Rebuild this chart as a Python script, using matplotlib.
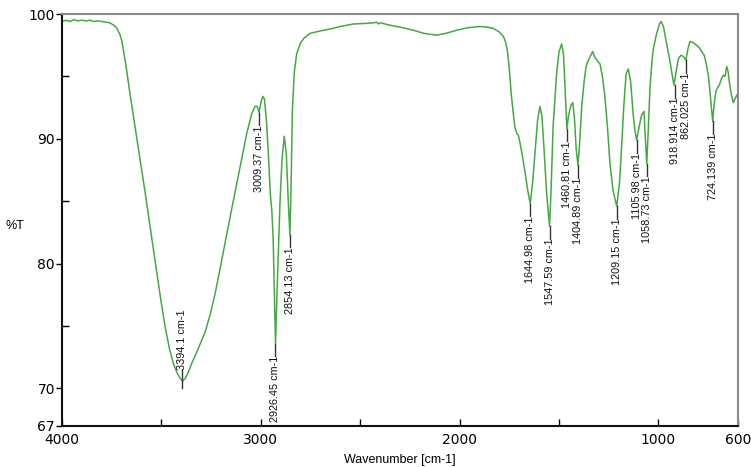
import matplotlib
matplotlib.use('Agg')
from matplotlib import pyplot as plt
from matplotlib.ticker import MultipleLocator, FixedLocator

# IR spectrum, wavenumber (cm-1) vs transmittance (%T)
wavenumber = [4000, 3980, 3960, 3940, 3920, 3900, 3880, 3860, 3840, 3820, 3800, 3780, 3760, 3740,
              3725, 3710, 3700, 3690, 3675, 3660, 3633, 3610, 3583, 3560, 3532, 3505, 3482, 3460,
              3440, 3420, 3405, 3394, 3380, 3365, 3348, 3320, 3281, 3255, 3230, 3200, 3165, 3130,
              3096, 3070, 3046, 3029, 3018, 3009, 3000, 2990, 2982, 2972, 2962, 2952, 2945, 2938,
              2932, 2926, 2920, 2912, 2904, 2893, 2882, 2872, 2862, 2854, 2848, 2842, 2832, 2820,
              2800, 2781, 2753, 2700, 2652, 2600, 2535, 2470, 2430, 2417, 2410, 2400, 2350, 2300,
              2233, 2180, 2115, 2070, 2015, 1960, 1898, 1860, 1831, 1800, 1780, 1770, 1760, 1750,
              1740, 1730, 1722, 1712, 1705, 1698, 1685, 1671, 1658, 1645, 1633, 1621, 1608, 1596,
              1586, 1575, 1562, 1548, 1540, 1530, 1512, 1500, 1487, 1478, 1470, 1461, 1452, 1440,
              1431, 1422, 1414, 1405, 1396, 1386, 1374, 1364, 1353, 1340, 1331, 1322, 1311, 1294,
              1282, 1269, 1256, 1244, 1228, 1210, 1196, 1185, 1175, 1163, 1152, 1140, 1127, 1118,
              1110, 1097, 1085, 1073, 1066, 1059, 1052, 1043, 1034, 1026, 1010, 995, 987, 975,
              967, 955, 942, 930, 922, 912, 900, 887, 875, 862, 852, 842, 825, 808,
              795, 783, 770, 758, 748, 741, 734, 727, 720, 711, 700, 694, 684, 674,
              665, 657, 650, 644, 634, 624, 615, 607, 600]
transmittance = [99.4, 99.5, 99.4, 99.55, 99.45, 99.5, 99.45, 99.5, 99.4, 99.45, 99.4, 99.35, 99.3, 99.1,
                 98.9, 98.4, 97.9, 97.0, 95.5, 93.8, 91.0, 88.6, 85.8, 83.3, 80.2, 77.3, 75.0, 73.2,
                 72.0, 71.2, 70.8, 70.6, 70.8, 71.3, 72.0, 73.0, 74.5, 75.9, 77.6, 80.0, 82.9, 85.7,
                 88.4, 90.5, 92.0, 92.6, 92.6, 92.1, 92.9, 93.4, 93.2, 91.5, 88.7, 85.5, 84.3, 82.0,
                 77.5, 73.6, 77.0, 81.0, 84.8, 88.5, 90.2, 88.8, 85.0, 82.3, 86.0, 92.0, 95.3, 96.8,
                 97.7, 98.1, 98.45, 98.65, 98.8, 99.0, 99.2, 99.25, 99.3, 99.35, 99.2, 99.3, 99.1, 98.95,
                 98.7, 98.45, 98.3, 98.45, 98.7, 98.9, 99.0, 98.95, 98.85, 98.55, 98.2, 97.8, 97.1, 95.5,
                 93.5, 92.0, 90.9, 90.4, 90.3, 89.8, 88.7, 87.3, 85.9, 84.8, 86.5, 88.9, 91.5, 92.6,
                 91.8, 89.0, 85.5, 83.0, 86.0, 91.0, 95.3, 97.0, 97.6, 96.8, 94.2, 90.8, 91.9, 92.7,
                 92.9, 91.5, 89.2, 87.9, 89.8, 92.6, 94.6, 95.8, 96.3, 96.7, 97.0, 96.6, 96.3, 96.0,
                 95.0, 93.3, 90.8, 88.0, 85.8, 84.6, 86.5, 89.5, 92.5, 95.2, 95.6, 94.6, 91.9, 90.6,
                 89.9, 91.0, 91.9, 92.2, 90.0, 88.0, 90.5, 94.0, 96.0, 97.2, 98.4, 99.2, 99.4, 99.0,
                 98.3, 97.3, 96.2, 95.0, 94.3, 95.3, 96.4, 96.7, 96.6, 96.3, 97.2, 97.8, 97.7, 97.5,
                 97.3, 97.0, 96.7, 95.9, 94.9, 93.8, 92.5, 91.4, 92.8, 93.8, 94.2, 94.3, 94.8, 95.1,
                 95.0, 95.8, 95.4, 94.6, 93.6, 92.9, 93.2, 93.5, 93.3]

# picked peaks
peak_wn = [3394.1, 3009.37, 2926.45, 2854.13, 1644.98, 1547.59, 1460.81, 1404.89,
           1209.15, 1105.98, 1058.73, 918.914, 862.025, 724.139]
peak_t = [70.6, 92.1, 73.6, 82.3, 84.8, 83.0, 90.8, 87.9, 84.6, 89.9, 88.0, 94.3, 96.3, 91.4]
peak_labels = ['3394.1 cm-1', '3009.37 cm-1', '2926.45 cm-1', '2854.13 cm-1', '1644.98 cm-1',
               '1547.59 cm-1', '1460.81 cm-1', '1404.89 cm-1', '1209.15 cm-1', '1105.98 cm-1',
               '1058.73 cm-1', '918.914 cm-1', '862.025 cm-1', '724.139 cm-1']

x_ticks = [4000, 3000, 2000, 1000, 600]
y_ticks = [100, 90, 80, 70, 67]

fig = plt.figure(figsize=(7.51, 4.67), dpi=100)
ax = fig.add_axes([0.0826, 0.088, 0.9001, 0.882])

ax.plot(wavenumber, transmittance, color='#45a845', linewidth=1.1)

label_font = ['Liberation Sans Narrow', 'Liberation Sans', 'DejaVu Sans']
for w, t, lab in zip(peak_wn, peak_t, peak_labels):
    if w > 3300:
        # broad OH band: label sits above the minimum
        ax.plot([w, w], [t + 0.9, t - 0.6], color='#333333', linewidth=1)
        ax.text(w, t + 0.9, lab, rotation=90, ha='center', va='bottom',
                fontsize=7.8, family=label_font, color='#111111')
    else:
        ax.plot([w, w], [t, t - 1.0], color='#333333', linewidth=1)
        ax.text(w, t - 1.0, lab, rotation=90, ha='center', va='top',
                fontsize=7.8, family=label_font, color='#111111')

ax.set_xlim(4000, 600)
ax.set_ylim(67, 100)
ax.xaxis.set_major_locator(FixedLocator(x_ticks))
ax.xaxis.set_minor_locator(FixedLocator([3500, 2500, 1500]))
ax.yaxis.set_major_locator(FixedLocator(y_ticks))
ax.yaxis.set_minor_locator(FixedLocator([95, 85, 75]))
ax.tick_params(axis='x', which='both', direction='in', length=5, width=1, pad=5, labelsize=10)
ax.tick_params(axis='y', which='major', direction='out', length=4, width=1, pad=1, labelsize=10)
ax.tick_params(axis='y', which='minor', direction='in', length=5, width=1)

for side in ['left', 'bottom']:
    ax.spines[side].set_color('#111111')
    ax.spines[side].set_linewidth(1.5)
for side in ['top', 'right']:
    ax.spines[side].set_color('#8a8a8a')
    ax.spines[side].set_linewidth(1.5)

ax.set_xlabel('Wavenumber [cm-1]', fontsize=9, family=['Liberation Sans', 'DejaVu Sans'], labelpad=5)
fig.text(0.02, 0.515, '%T', fontsize=9, family=['Liberation Sans', 'DejaVu Sans'], ha='center', va='center')

fig.savefig('out.png', dpi=100)
